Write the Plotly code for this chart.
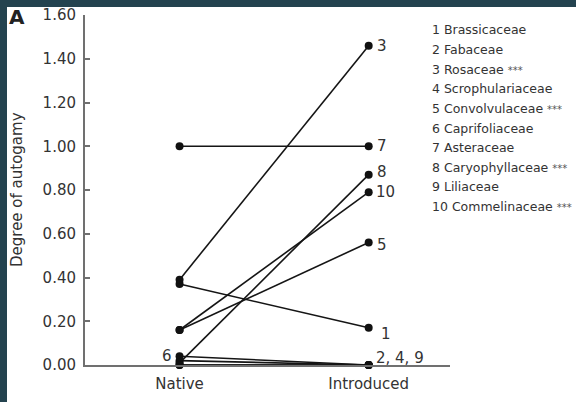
import plotly.graph_objects as go

# Degree of autogamy per family, native vs introduced range
families = ["Brassicaceae", "Fabaceae", "Rosaceae", "Scrophulariaceae",
            "Convolvulaceae", "Caprifoliaceae", "Asteraceae",
            "Caryophyllaceae", "Liliaceae", "Commelinaceae"]
family_ids = [1, 2, 3, 4, 5, 6, 7, 8, 9, 10]
significance = ["", "", "***", "", "***", "", "", "***", "", "***"]
native_vals = [0.37, 0.02, 0.39, 0.00, 0.16, 0.04, 1.00, 0.01, 0.00, 0.16]
introduced_vals = [0.17, 0.00, 1.46, 0.00, 0.56, 0.00, 1.00, 0.87, 0.00, 0.79]
groups = ["Native", "Introduced"]
y_ticks = [0.0, 0.2, 0.4, 0.6, 0.8, 1.0, 1.2, 1.4, 1.6]

W, H = 576, 402
ML, MR, MT, MB = 85, 126, 15, 37
PW, PH = W - ML - MR, H - MT - MB


def px(x):
    return (x - ML) / PW


def py(y):
    return 1 - (y - MT) / PH


FONT = "DejaVu Sans"
TXT = "#333333"

fig = go.Figure()
for i, fid in enumerate(family_ids):
    fig.add_trace(go.Scatter(
        x=[0, 1], y=[native_vals[i], introduced_vals[i]],
        mode="lines+markers",
        line=dict(color="#151515", width=1.6),
        marker=dict(color="#111111", size=8),
        cliponaxis=False, showlegend=False, name=families[i],
    ))

annotations = []
# end-point labels on the introduced side
end_labels = {3: (6, 0), 7: (6, 0), 8: (6, 3), 10: (5, 0), 5: (6, -2), 1: (10, -6)}
for fid, (dx, dy) in end_labels.items():
    i = family_ids.index(fid)
    annotations.append(dict(x=1, y=introduced_vals[i], xref="x", yref="y",
                            text=str(fid), showarrow=False, xanchor="left",
                            xshift=dx, yshift=dy,
                            font=dict(family=FONT, size=15, color=TXT)))
zero_ids = [fid for fid in family_ids
            if introduced_vals[family_ids.index(fid)] == 0 and fid != 6]
annotations.append(dict(x=1, y=0, xref="x", yref="y",
                        text=", ".join(str(f) for f in zero_ids),
                        showarrow=False, xanchor="left", xshift=5, yshift=7,
                        font=dict(family=FONT, size=15, color=TXT)))
# label for family 6 at its native point
i6 = family_ids.index(6)
annotations.append(dict(x=0, y=native_vals[i6], xref="x", yref="y", text="6",
                        showarrow=False, xanchor="right", xshift=-6,
                        font=dict(family=FONT, size=15, color=TXT)))

# family key
for i, fid in enumerate(family_ids):
    label = f"{fid} {families[i]}"
    if significance[i]:
        label += f' <span style="font-size:10px;color:#555555">{significance[i]}</span>'
    annotations.append(dict(x=px(430), y=py(30 + 19.6 * i), xref="paper",
                            yref="paper", text=label,
                            showarrow=False, xanchor="left", yanchor="middle",
                            font=dict(family=FONT, size=12.5, color=TXT)))

# panel letter and y title
annotations.append(dict(x=px(16.5), y=py(17.5), xref="paper", yref="paper",
                        text="<b>A</b>", showarrow=False, xanchor="center",
                        yanchor="middle",
                        font=dict(family=FONT, size=20, color="#222222")))
annotations.append(dict(x=px(17), y=py(190), xref="paper", yref="paper",
                        text="Degree of autogamy", textangle=-90,
                        showarrow=False, xanchor="center", yanchor="middle",
                        font=dict(family=FONT, size=15, color=TXT)))

shapes = [dict(type="rect", xref="paper", yref="paper",
               x0=px(7), x1=px(W + 5), y0=py(H + 5), y1=py(7),
               fillcolor="white", line=dict(width=0), layer="below")]

fig.update_layout(
    width=W, height=H,
    margin=dict(l=ML, r=MR, t=MT, b=MB, autoexpand=False),
    paper_bgcolor="#24434f", plot_bgcolor="white",
    annotations=annotations, shapes=shapes,
    xaxis=dict(range=[-0.5, 1.43], tickvals=[0, 1], ticktext=groups,
               showgrid=False, zeroline=False, showline=True,
               linecolor="#707070", linewidth=2,
               ticks="outside", ticklen=4, tickcolor="rgba(0,0,0,0)",
               tickfont=dict(family=FONT, size=15, color=TXT)),
    yaxis=dict(range=[0, 1.6], tickvals=y_ticks, tickformat=".2f",
               showgrid=False, zeroline=False, showline=True,
               linecolor="#707070", linewidth=2,
               ticks="inside", ticklen=5, tickwidth=2, tickcolor="#707070",
               ticklabelstandoff=4,
               tickfont=dict(family=FONT, size=15, color=TXT)),
)

fig.write_html("out.html")
